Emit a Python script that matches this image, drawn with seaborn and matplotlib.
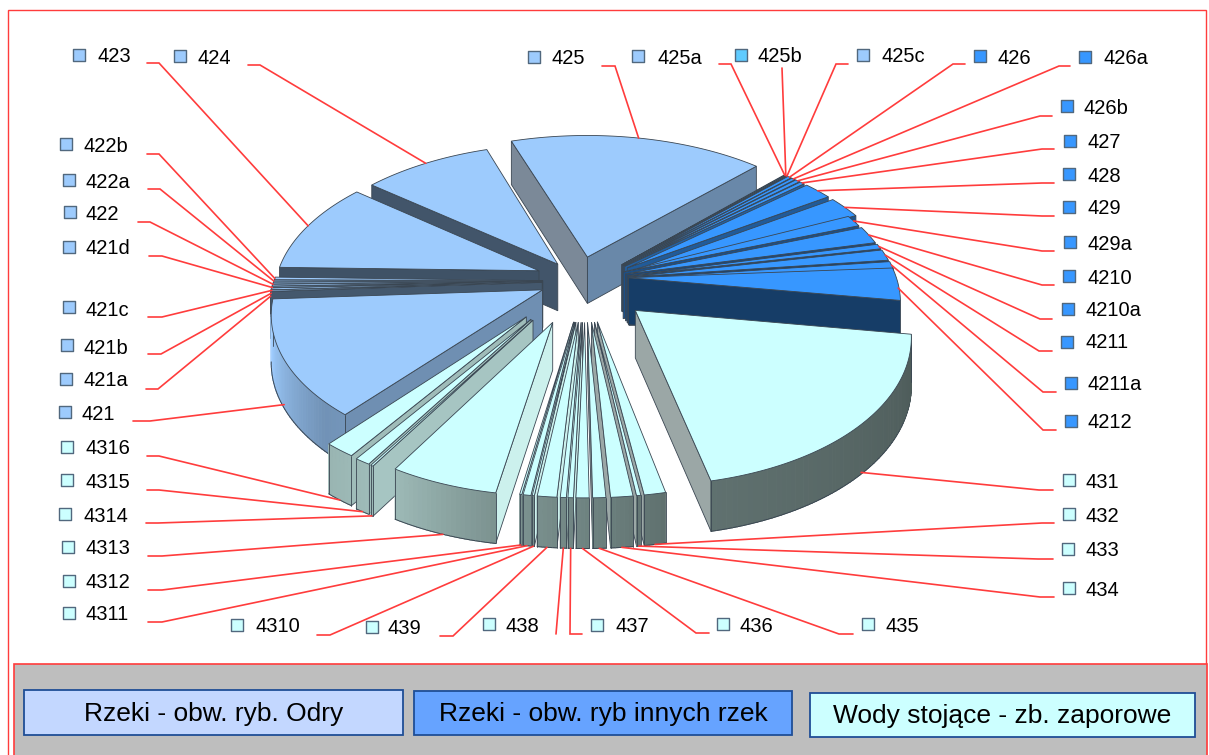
import numpy as np
import pandas as pd
import matplotlib
matplotlib.use("Agg")
import matplotlib.pyplot as plt
from matplotlib.colors import to_rgb
from matplotlib.patches import Polygon, Rectangle
import seaborn as sns

labels = ["431", "432", "433", "434", "435", "436", "437", "438", "439", "4310", "4311", "4312",
          "4313", "4314", "4315", "4316",
          "421", "421a", "421b", "421c", "421d", "422", "422a", "422b", "423", "424",
          "425", "425a", "425b", "425c",
          "426", "426a", "426b", "427", "428", "429", "429a", "4210", "4210a", "4211", "4211a", "4212"]
shares = [19.17, 1.11, 0.22, 1.14, 0.67, 0.67, 0.28, 0.31, 1.00, 0.11, 0.40, 0.11,
          5.71, 0.14, 0.83, 1.67,
          13.06, 0.15, 0.20, 0.15, 0.20, 0.20, 0.20, 0.30, 10.42, 9.03,
          17.44, 0.08, 0.08, 0.08,
          0.28, 0.28, 0.33, 0.33, 2.00, 2.42, 1.28, 1.94, 0.56, 1.22, 0.83, 3.61]
groups = ["lake"] * 16 + ["odra"] * 14 + ["other"] * 12
groups[labels.index("425b")] = "cyan"

legend_names = ["Rzeki - obw. ryb. Odry", "Rzeki - obw. ryb innych rzek", "Wody stojące - zb. zaporowe"]

# look
top_colors = {"lake": "#CCFFFF", "odra": "#9DCBFD", "other": "#3797FF", "cyan": "#5FCBFF"}
wall_colors = {"lake": "#D0F6F2", "odra": "#9DCBFD", "other": "#3797FF", "cyan": "#5FCBFF"}
legend_fill = ["#C3D7FF", "#66A3FF", "#CCFFFF"]
legend_box = [(24, 690, 379, 45), (414, 691, 378, 44), (810, 693, 385, 44)]
red = "#FF3C3C"
line = "#3A4652"

# explosion of single slices: distance, turn of its direction in degrees, radius
explode_default = (0.2, 0, 1.0)
explode_special = {
    "431": (0.25, 0, 0.98), "421": (0.16, 15, 0.985), "4212": (0.17, -20, 1.0),
    "424": (0.18, 0, 1.0), "423": (0.2, 10, 0.98), "425": (0.2, -10, 1.03),
    "4313": (0.275, 5, 0.95),
}
for lab in ["432", "433", "434", "435", "436", "437", "438", "439", "4310", "4311", "4312"]:
    explode_special[lab] = (0.25, 0, 0.96)
for lab in ["4314", "4315", "4316"]:
    explode_special[lab] = (0.30, 8, 0.95)
for lab in ["421a", "421b", "421c", "421d", "422", "422a", "422b"]:
    explode_special[lab] = (0.16, 10, 1.0)
for lab in ["429a", "4210", "4210a", "4211", "4211a"]:
    explode_special[lab] = (0.17, -10, 1.0)

# projection of the pie plane to pixels
cx, cy = 585, 285
ax_x, ax_y = 270, 144
persp = 0.15
start_angle = 9

# marker x, marker y, text x, text y, stub start x, stub end x, stub y
layout = {
    "431": (1069, 480, 1085, 483, 1053, 1039, 490), "432": (1069, 514, 1086, 516, 1054, 1042, 523),
    "433": (1068, 549, 1085, 551, 1053, 1038, 559), "434": (1069, 588, 1086, 590, 1054, 1040, 597),
    "435": (868, 624, 886, 626, 853, 839, 634), "436": (723, 624, 740, 626, 709, 696, 633),
    "437": (597, 625, 615, 627, 582, 570, 634), "438": (489, 624, 506, 626, 556, 556, 634),
    "439": (372, 627, 388, 629, 440, 453, 636), "4310": (237, 625, 255, 627, 317, 330, 635),
    "4311": (69, 613, 86, 615, 148, 162, 622), "4312": (69, 581, 86, 583, 148, 162, 590),
    "4313": (68, 547, 86, 549, 148, 162, 556), "4314": (65, 514, 84, 516, 146, 158, 523),
    "4315": (67, 480, 85, 482, 147, 159, 490), "4316": (67, 447, 85, 448, 147, 159, 456),
    "421": (65, 412, 82, 414, 133, 150, 421), "421a": (66, 379, 84, 381, 146, 158, 389),
    "421b": (67, 345, 84, 348, 148, 161, 354), "421c": (69, 307, 86, 310, 148, 162, 317),
    "421d": (69, 247, 86, 249, 149, 162, 256), "422": (70, 212, 86, 214, 138, 150, 222),
    "422a": (69, 180, 86, 182, 148, 160, 189), "422b": (66, 144, 83, 146, 147, 159, 154),
    "423": (79, 55, 97, 57, 147, 159, 63), "424": (180, 56, 197, 58, 248, 260, 65),
    "425": (534, 57, 551, 59, 602, 615, 66), "425a": (638, 56, 657, 58, 719, 731, 64),
    "425b": (741, 55, 758, 57, 782, 782, 68), "425c": (863, 55, 881, 57, 848, 836, 64),
    "426": (980, 56, 997, 58, 965, 953, 64), "426a": (1085, 57, 1103, 59, 1070, 1059, 66),
    "426b": (1067, 106, 1084, 108, 1052, 1040, 116), "427": (1070, 141, 1087, 143, 1054, 1042, 149),
    "428": (1069, 174, 1087, 176, 1054, 1042, 183), "429": (1069, 207, 1087, 208, 1054, 1042, 216),
    "429a": (1070, 242, 1088, 244, 1054, 1042, 251), "4210": (1069, 276, 1087, 278, 1054, 1042, 285),
    "4210a": (1068, 309, 1085, 311, 1052, 1040, 319), "4211": (1067, 342, 1085, 343, 1052, 1039, 351),
    "4211a": (1071, 383, 1088, 384, 1056, 1043, 392), "4212": (1071, 421, 1088, 423, 1056, 1043, 430),
}


def project(x, y):
    s = 1 / (1 - persp * y)
    return cx + ax_x * x * s, cy + ax_y * y * s


def depth_at(y):
    return 47 + 3 * y


def shade(base, f):
    c = np.array(to_rgb(base))
    if f <= 1:
        return tuple(c * f)
    return tuple(c + (1 - c) * (f - 1) * 2)


def radial_color(base, normal):
    n = normal % 360
    c = np.array(shade(base, np.interp(n, [12, 42, 92, 130, 165, 260], [0.98, 0.68, 0.40, 0.42, 0.70, 0.70])))
    # walls turned to the left lose their colour
    if 140 < n < 260:
        c = 0.45 * c + 0.55 * c.mean()
    return tuple(c)


def outer_factor(theta):
    t = theta % 360
    return np.interp(t, [5, 78, 100, 120, 135, 178], [0.36, 0.46, 0.60, 0.76, 0.72, 1.12])


sns.set_theme(style="white")
plt.rcParams["font.family"] = ["Liberation Sans", "DejaVu Sans"]
fig = plt.figure(figsize=(12.09, 7.55), dpi=100)
ax = fig.add_axes([0, 0, 1, 1])
ax.set_xlim(0, 1209)
ax.set_ylim(755, 0)
ax.axis("off")

# frame and legend panel
ax.add_patch(Rectangle((8, 10), 1198, 760, fc="white", ec=red, lw=1.0, zorder=0))
ax.add_patch(Rectangle((14, 664), 1193, 100, fc="#BEBEBE", ec=red, lw=1.2, zorder=1))
for name, fill, (bx, by, bw, bh) in zip(legend_names, legend_fill, legend_box):
    ax.add_patch(Rectangle((bx, by), bw, bh, fc=fill, ec="#1F4E96", lw=1.3, zorder=2))
    ax.text(bx + bw / 2, by + bh / 2 + 1, name, ha="center", va="center", fontsize=19, color="black", zorder=3)

# build the slices from the shares
total = sum(shares)
slices = []
angle = start_angle
for lab, val, grp in zip(labels, shares, groups):
    sweep = val / total * 360
    t0, t1 = angle, angle + sweep
    angle = t1
    mid = np.radians((t0 + t1) / 2)
    e, turn, rad = explode_special.get(lab, explode_default)
    ox, oy = e * np.cos(mid + np.radians(turn)), e * np.sin(mid + np.radians(turn))
    n = max(2, int(sweep) + 2)
    th = np.radians(np.linspace(t0, t1, n))
    px, py = ox + rad * np.cos(th), oy + rad * np.sin(th)
    xs, ys = project(px, py)
    apex = project(ox, oy)
    order = oy + 0.66 * np.sin(mid)
    slices.append(dict(lab=lab, grp=grp, t0=t0, t1=t1, mid=mid, th=th, xs=xs, ys=ys, apex=apex,
                       order=order, dep=depth_at(py), dep_apex=depth_at(oy)))

z = 5
for sl in sorted(slices, key=lambda d: d["order"]):
    top = top_colors[sl["grp"]]
    wall = wall_colors[sl["grp"]]
    ap = sl["apex"]
    xs, ys, dep = sl["xs"], sl["ys"], sl["dep"]
    da = sl["dep_apex"]

    # radial walls, only those turned to the viewer
    edges = [((ap[0], ap[1]), (xs[0], ys[0]), da, dep[0], sl["t0"] - 90),
             ((xs[-1], ys[-1]), (ap[0], ap[1]), dep[-1], da, sl["t1"] + 90)]
    for p, q, dp, dq, normal in edges:
        if q[0] < p[0]:
            quad = [p, q, (q[0], q[1] + dq), (p[0], p[1] + dp)]
            ax.add_patch(Polygon(quad, fc=radial_color(wall, normal), ec=line, lw=0.6, zorder=z))

    # outer wall, strip by strip so the light can change along it
    for i in range(len(xs) - 1):
        if xs[i + 1] < xs[i]:
            quad = [(xs[i], ys[i]), (xs[i + 1], ys[i + 1]), (xs[i + 1], ys[i + 1] + dep[i + 1]), (xs[i], ys[i] + dep[i])]
            c = shade(wall, outer_factor(np.degrees(sl["th"][i])))
            ax.add_patch(Polygon(quad, fc=c, ec=c, lw=0.7, zorder=z))
            ax.plot([xs[i], xs[i + 1]], [ys[i] + dep[i], ys[i + 1] + dep[i + 1]], color=line, lw=0.7, zorder=z)
    if xs[-1] < xs[0]:
        ax.plot([xs[0], xs[0]], [ys[0], ys[0] + dep[0]], color=line, lw=0.6, zorder=z)
        ax.plot([xs[-1], xs[-1]], [ys[-1], ys[-1] + dep[-1]], color=line, lw=0.6, zorder=z)

    face = [ap] + list(zip(xs, ys))
    ax.add_patch(Polygon(face, fc=top, ec=line, lw=0.6, zorder=z + 0.5))
    z += 1

# leader lines end on the slice they belong to
for sl in slices:
    sx0, sx1, sy = layout[sl["lab"]][4:]
    tx = np.interp(sl["mid"], sl["th"], sl["xs"])
    ty = np.interp(sl["mid"], sl["th"], sl["ys"])
    s = np.sin(sl["mid"])
    if s > 0:
        ty = ty + sl["dep"][0] * min(1, 2 * s)
    ax.plot([sx0, sx1, tx], [sy, sy, ty], color=red, lw=1.2, zorder=z + 1, solid_joinstyle="miter")

# markers and labels
df = pd.DataFrame({
    "label": labels,
    "group": groups,
    "x": [layout[l][0] for l in labels],
    "y": [layout[l][1] for l in labels],
})
sns.scatterplot(data=df, x="x", y="y", hue="group", palette=top_colors, marker="s", s=80,
                edgecolor="#51687E", linewidth=1.0, legend=False, ax=ax, zorder=z + 2)
ax.set_xlim(0, 1209)
ax.set_ylim(755, 0)
ax.axis("off")
for lab in labels:
    ax.text(layout[lab][2], layout[lab][3], lab, ha="left", va="center", fontsize=14.5, color="black", zorder=z + 3)

plt.savefig("out.png", dpi=100)
